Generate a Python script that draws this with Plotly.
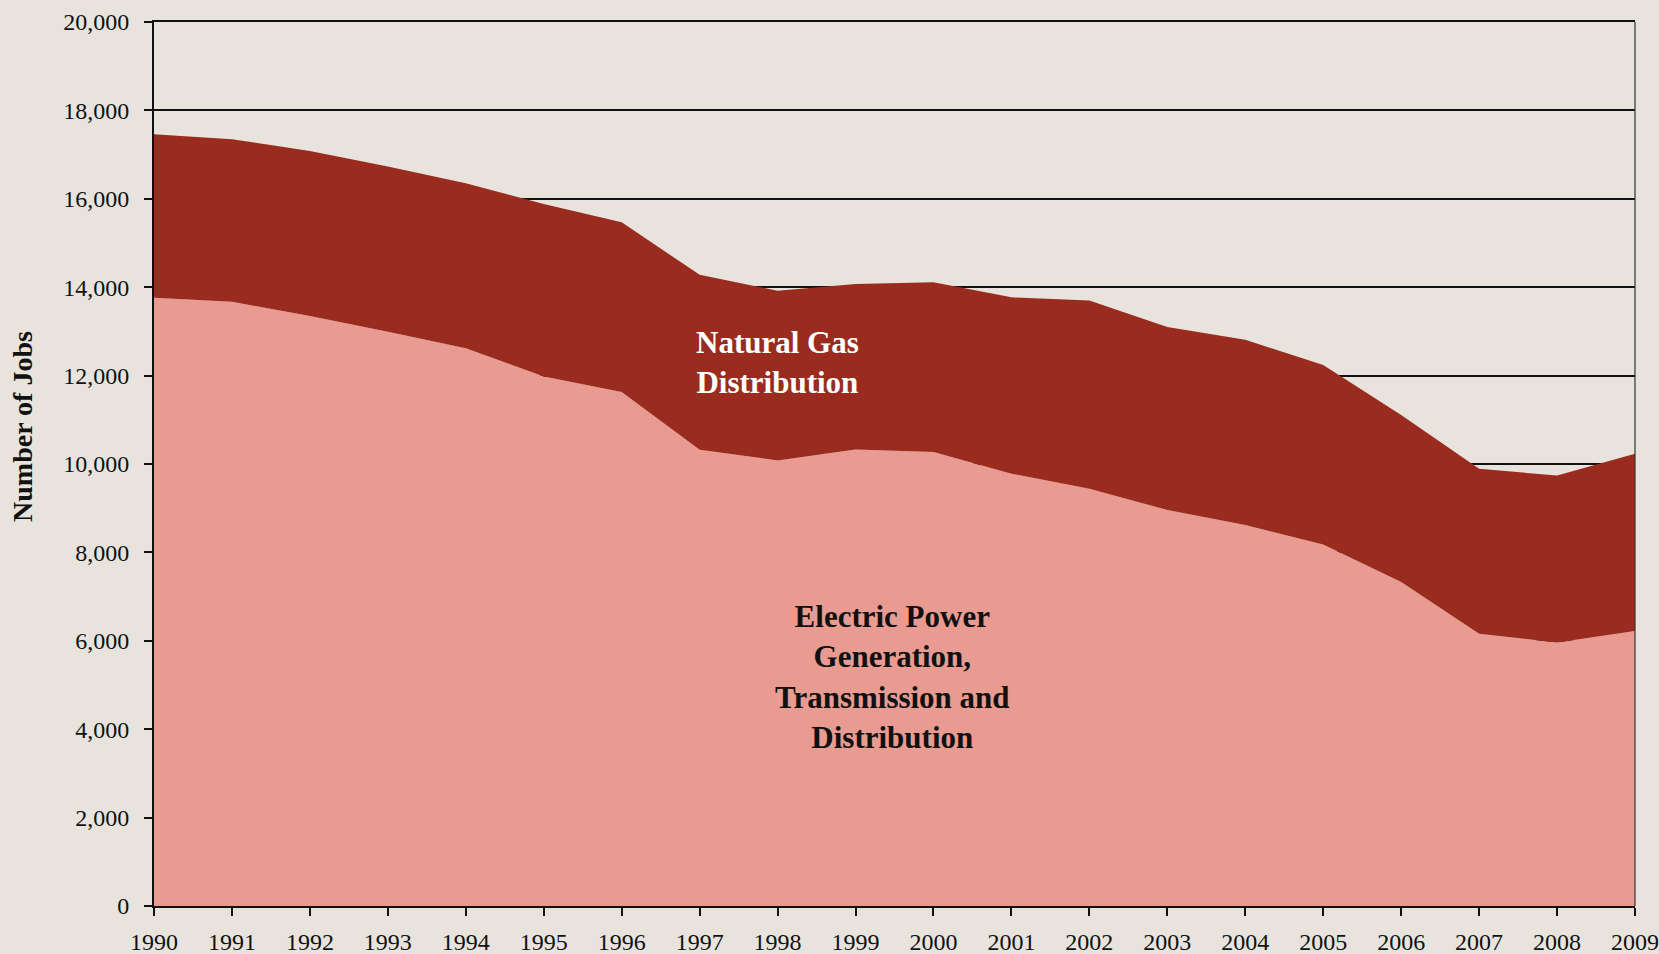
import plotly.graph_objects as go

years = [str(y) for y in range(1990, 2010)]
electric_power = [13760, 13670, 13350, 12990, 12620, 11980, 11630, 10320, 10080, 10330,
                  10270, 9780, 9440, 8960, 8620, 8180, 7330, 6160, 5960, 6220]
natural_gas = [3700, 3680, 3730, 3740, 3730, 3900, 3840, 3960, 3840, 3740,
               3840, 3990, 4260, 4140, 4190, 4060, 3780, 3730, 3780, 4010]
y_ticks = [0, 2000, 4000, 6000, 8000, 10000, 12000, 14000, 16000, 18000, 20000]
y_tick_text = [f"{v:,}" for v in y_ticks]

BG = "#E8E4DD"
FONT = "Liberation Serif, Times New Roman, serif"

fig = go.Figure()
fig.add_trace(go.Scatter(
    x=years, y=electric_power, name="Electric Power Generation, Transmission and Distribution",
    stackgroup="one", mode="none", fillcolor="#E99B91", line=dict(width=0),
))
fig.add_trace(go.Scatter(
    x=years, y=natural_gas, name="Natural Gas Distribution",
    stackgroup="one", mode="none", fillcolor="#9A2C1F", line=dict(width=0),
))

fig.add_annotation(x=8, y=12300, xref="x", yref="y",
                   text="<b>Natural Gas<br>Distribution</b>", showarrow=False,
                   font=dict(family=FONT, size=31, color="white"), align="center")
fig.add_annotation(x=9.48, y=5170, xref="x", yref="y",
                   text="<b>Electric Power<br>Generation,<br>Transmission and<br>Distribution</b>",
                   showarrow=False,
                   font=dict(family=FONT, size=31, color="#111111"), align="center")
fig.add_annotation(x=-0.0885, y=0.543, xref="paper", yref="paper",
                   xanchor="center", yanchor="middle",
                   text="<b>Number of Jobs</b>", textangle=-90, showarrow=False,
                   font=dict(family=FONT, size=28, color="#111111"))

fig.update_layout(
    width=1659, height=954, autosize=False,
    margin=dict(l=154, r=24, t=22, b=48, autoexpand=False),
    paper_bgcolor=BG, plot_bgcolor=BG,
    showlegend=False,
    font=dict(family=FONT, color="#111111"),
)
fig.update_xaxes(
    type="category", range=[0, 19],
    showgrid=False, showline=True, linecolor="#111111", linewidth=2,
    ticks="outside", ticklen=8, tickcolor="#111111", tickwidth=1.5,
    ticklabelstandoff=5, automargin=False,
    tickfont=dict(family=FONT, size=24, color="#111111"),
    mirror=True,
)
fig.update_yaxes(
    range=[0, 20000], tickvals=y_ticks, ticktext=y_tick_text,
    showgrid=True, gridcolor="#111111", gridwidth=1.5,
    showline=True, linecolor="#111111", linewidth=2,
    ticks="outside", ticklen=8, tickcolor="#111111", tickwidth=1.5,
    ticklabelstandoff=10, automargin=False,
    tickfont=dict(family=FONT, size=24, color="#111111"),
    zeroline=False,
)
# right border line
fig.add_shape(type="line", xref="paper", yref="paper", x0=1, x1=1, y0=0, y1=1,
              line=dict(color="#333333", width=1.2), layer="above")

fig.write_html(
    "out.html",
    config={"responsive": False, "displayModeBar": False},
    post_script=(
        "document.documentElement.style.overflow='hidden';"
        "document.body.style.overflow='hidden';"
        "document.body.style.margin='0';"
        "document.body.style.background='%s';" % BG
    ),
)
